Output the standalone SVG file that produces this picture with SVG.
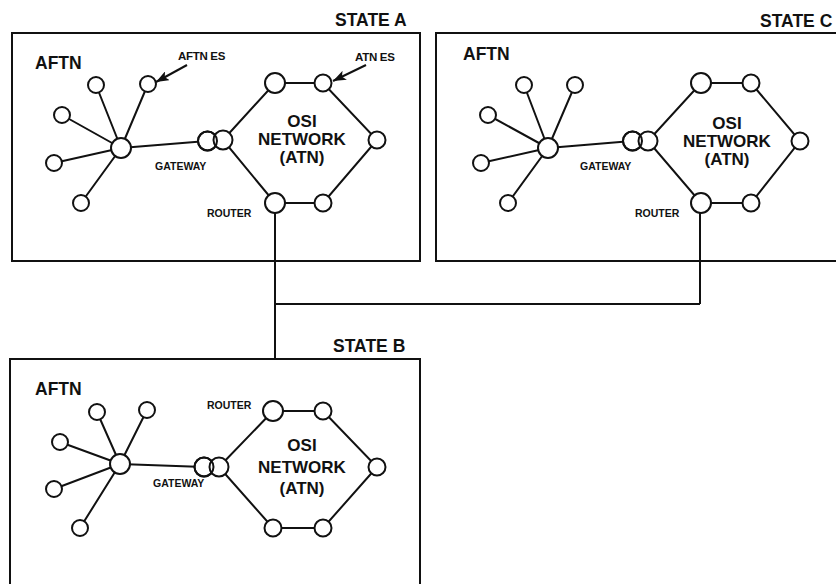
<svg xmlns="http://www.w3.org/2000/svg" width="836" height="584" viewBox="0 0 836 584">
<defs>
<style>
.box{fill:none;stroke:#111;stroke-width:2}
.ln{stroke:#111;stroke-width:2;fill:none}
.nd{fill:#fff;stroke:#111;stroke-width:2}
.ov{fill:none;stroke:#111;stroke-width:2}
.t{font-family:"Liberation Sans",Arial,sans-serif;font-weight:bold;fill:#111}
.big{font-size:17.5px}
.osi{font-size:17px;text-anchor:middle}
.sm{font-size:10.5px}
.es{font-size:11.5px;letter-spacing:-0.3px}
</style>
<marker id="ah" viewBox="0 0 13 10" refX="13" refY="5" markerWidth="13" markerHeight="10" markerUnits="userSpaceOnUse" orient="auto">
<path d="M0,0 L13,5 L0,10 L3,5 Z" fill="#111"/>
</marker>
</defs>
<rect width="836" height="584" fill="#fff"/>

<g id="connectors">
<path class="ln" d="M275,213 V359 M275,304 H700 M700,213 V304"/>
</g>

<g id="stateA">
<rect class="box" x="12" y="33" width="408" height="228"/>
<text class="t big" x="335" y="26">STATE A</text>
<text class="t big" x="35" y="69">AFTN</text>
<g id="A-links">
<path class="ln" d="M121,148 L96,85 M121,148 L148,84 M121,148 L62,115 M121,148 L54,163 M121,148 L81,203 M121,148 L207,141"/>
<path class="ln" d="M223,140 L275,83 L323,83 L377,140 L323,203 L275,203 Z"/>
<path class="ln" marker-end="url(#ah)" d="M187,65 L156,82"/>
<path class="ln" marker-end="url(#ah)" d="M366,65 L333,81"/>
</g>
<g id="A-aftn-leaf1"><circle class="nd" cx="96" cy="85" r="8"/></g>
<g id="A-aftn-es"><circle class="nd" cx="148" cy="84" r="8"/></g>
<g id="A-aftn-leaf3"><circle class="nd" cx="62" cy="115" r="8"/></g>
<g id="A-aftn-leaf4"><circle class="nd" cx="54" cy="163" r="8"/></g>
<g id="A-aftn-leaf5"><circle class="nd" cx="81" cy="203" r="8"/></g>
<g id="A-aftn-hub"><circle class="nd" cx="121" cy="148" r="10"/></g>
<g id="A-gateway"><circle class="nd" cx="207.5" cy="141" r="9.5"/><circle class="nd" cx="223" cy="140" r="9.5"/><circle class="ov" cx="207.5" cy="141" r="9.5"/></g>
<g id="A-hex-tl"><circle class="nd" cx="275" cy="83" r="10"/></g>
<g id="A-atn-es"><circle class="nd" cx="323" cy="83" r="8.5"/></g>
<g id="A-hex-r"><circle class="nd" cx="377" cy="140" r="8.5"/></g>
<g id="A-hex-br"><circle class="nd" cx="323" cy="203" r="8.5"/></g>
<g id="A-router"><circle class="nd" cx="275" cy="203" r="10"/></g>
<g id="A-osi"><text class="t osi" x="302" y="127">OSI</text><text class="t osi" x="302" y="145">NETWORK</text><text class="t osi" x="302" y="163">(ATN)</text></g>
<text class="t es" x="178" y="60">AFTN ES</text>
<text class="t es" x="355" y="61">ATN ES</text>
<text class="t sm" x="155" y="170">GATEWAY</text>
<text class="t sm" x="207" y="217">ROUTER</text>
</g>

<g id="stateC">
<rect class="box" x="436" y="33" width="420" height="228"/>
<text class="t big" x="760" y="27">STATE C</text>
<text class="t big" x="463" y="60">AFTN</text>
<g id="C-links">
<path class="ln" d="M548,148 L524,85 M548,148 L575,85 M548,148 L488,115 M548,148 L481,163 M548,148 L508,203 M548,148 L632,141"/>
<path class="ln" d="M648,141 L701,83 L751,83 L800,141 L751,203 L701,203 Z"/>
</g>
<g id="C-aftn-leaf1"><circle class="nd" cx="524" cy="85" r="8"/></g>
<g id="C-aftn-leaf2"><circle class="nd" cx="575" cy="85" r="8"/></g>
<g id="C-aftn-leaf3"><circle class="nd" cx="488" cy="115" r="8"/></g>
<g id="C-aftn-leaf4"><circle class="nd" cx="481" cy="163" r="8"/></g>
<g id="C-aftn-leaf5"><circle class="nd" cx="508" cy="203" r="8"/></g>
<g id="C-aftn-hub"><circle class="nd" cx="548" cy="148" r="10"/></g>
<g id="C-gateway"><circle class="nd" cx="632.5" cy="141" r="9.5"/><circle class="nd" cx="648" cy="141" r="9.5"/><circle class="ov" cx="632.5" cy="141" r="9.5"/></g>
<g id="C-hex-tl"><circle class="nd" cx="701" cy="83" r="10"/></g>
<g id="C-hex-tr"><circle class="nd" cx="751" cy="83" r="8.5"/></g>
<g id="C-hex-r"><circle class="nd" cx="800" cy="141" r="8.5"/></g>
<g id="C-hex-br"><circle class="nd" cx="751" cy="203" r="8.5"/></g>
<g id="C-router"><circle class="nd" cx="701" cy="203" r="10"/></g>
<g id="C-osi"><text class="t osi" x="727" y="129">OSI</text><text class="t osi" x="727" y="147">NETWORK</text><text class="t osi" x="727" y="165">(ATN)</text></g>
<text class="t sm" x="580" y="170">GATEWAY</text>
<text class="t sm" x="635" y="217">ROUTER</text>
</g>

<g id="stateB">
<rect class="box" x="10" y="359" width="410" height="240"/>
<text class="t big" x="333" y="352">STATE B</text>
<text class="t big" x="35" y="395">AFTN</text>
<g id="B-links">
<path class="ln" d="M120,464 L97,412 M120,464 L147,410 M120,464 L60,442 M120,464 L54,489 M120,464 L80,528 M120,464 L204,467"/>
<path class="ln" d="M219,467 L273,411 L323,411 L377,467 L323,528 L273,528 Z"/>
</g>
<g id="B-aftn-leaf1"><circle class="nd" cx="97" cy="412" r="8"/></g>
<g id="B-aftn-leaf2"><circle class="nd" cx="147" cy="410" r="8"/></g>
<g id="B-aftn-leaf3"><circle class="nd" cx="60" cy="442" r="8"/></g>
<g id="B-aftn-leaf4"><circle class="nd" cx="54" cy="489" r="8"/></g>
<g id="B-aftn-leaf5"><circle class="nd" cx="80" cy="528" r="8"/></g>
<g id="B-aftn-hub"><circle class="nd" cx="120" cy="464" r="10"/></g>
<g id="B-gateway"><circle class="nd" cx="204" cy="467" r="9.5"/><circle class="nd" cx="219" cy="467" r="9.5"/><circle class="ov" cx="204" cy="467" r="9.5"/></g>
<g id="B-router"><circle class="nd" cx="273" cy="411" r="10"/></g>
<g id="B-hex-tr"><circle class="nd" cx="323" cy="411" r="8.5"/></g>
<g id="B-hex-r"><circle class="nd" cx="377" cy="467" r="8.5"/></g>
<g id="B-hex-br"><circle class="nd" cx="323" cy="528" r="8.5"/></g>
<g id="B-hex-bl"><circle class="nd" cx="273" cy="528" r="8.5"/></g>
<g id="B-osi"><text class="t osi" x="302" y="451">OSI</text><text class="t osi" x="302" y="473">NETWORK</text><text class="t osi" x="302" y="494">(ATN)</text></g>
<text class="t sm" x="153" y="487">GATEWAY</text>
<text class="t sm" x="207" y="409">ROUTER</text>
</g>
</svg>
